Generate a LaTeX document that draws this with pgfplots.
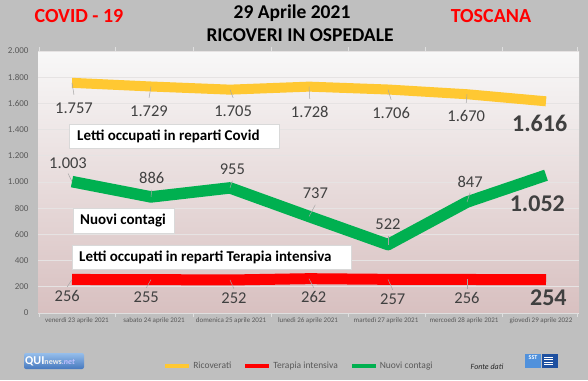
\documentclass[border=0pt]{standalone}
\usepackage{fontspec}
\setmainfont{Carlito}
\usepackage{pgfplots}
\pgfplotsset{compat=1.18}
\definecolor{bggray}{HTML}{BFBFBF}
\definecolor{cyellow}{HTML}{FFC832}
\definecolor{cgreen}{HTML}{00B050}
\definecolor{cred}{HTML}{FF0000}
\definecolor{tickgray}{HTML}{595959}
\definecolor{labgray}{HTML}{404040}
\definecolor{gridc}{HTML}{E6E3E3}
\definecolor{bgtop}{HTML}{F8F8F8}
\definecolor{bgbot}{HTML}{D8C0C0}
\definecolor{logotop}{RGB}{150,190,235}
\definecolor{logobot}{RGB}{70,120,190}
\definecolor{sstA}{RGB}{80,145,220}
\definecolor{sstB}{RGB}{30,80,160}
\newcommand{\fs}[1]{\fontsize{#1}{#1}\selectfont}
\begin{document}
\begin{tikzpicture}
\path[use as bounding box, fill=bggray] (0,0) rectangle (588pt,-380pt);
% titles
\node[text=cred, font=\fs{20}\bfseries] at (79pt,-16pt) {COVID - 19};
\node[text=cred, font=\fs{20}\bfseries] at (491pt,-16pt) {TOSCANA};
\node[font=\fs{19.5}\bfseries] at (292pt,-13pt) {29 Aprile 2021};
\node[font=\fs{19.5}\bfseries] at (300pt,-35pt) {RICOVERI IN OSPEDALE};
\begin{axis}[
  at={(38pt,-313pt)}, anchor=south west,
  scale only axis, width=541pt, height=262pt,
  xmin=-0.4304, xmax=6.4177, ymin=0, ymax=2000,
  clip=false,
  axis background/.style={shade, top color=bgtop, bottom color=bgbot},
  axis line style={draw=none},
  ytick={0,200,...,2000},
  ymajorgrids, major grid style={gridc, line width=0.9pt},
  tick style={draw=none},
  /pgf/number format/.cd, 1000 sep={.}, assume math mode=true, /pgfplots/.cd,
  yticklabel style={font=\fs{9}, text=tickgray, xshift=-6pt},
  xtick={0.063,1.038,2.013,2.987,3.975,4.962,5.937},
  xticklabels={venerdì 23 aprile 2021, sabato 24 aprile 2021, domenica 25 aprile 2021, lunedì 26 aprile 2021, martedì 27 aprile 2021, mercoedì 28 aprile 2021, giovedì 29 aprile 2022},
  xticklabel style={font=\fs{7}, text=tickgray, yshift=-1.5pt},
  extra x ticks={-0.418,0.544,1.532,2.519,3.494,4.468,5.443,6.392},
  extra x tick labels={},
  extra x tick style={major tick length=4pt, tick align=outside, tick style={draw=gray!25, line width=0.6pt}, grid=none},
  legend style={at={(axis description cs:0.4824,-0.2023)}, anchor=center, draw=none, fill=none,
    font=\fs{9.5}, text=tickgray, /tikz/every even column/.append style={column sep=10pt}},
  legend columns=3,
  legend cell align=left,
  legend image code/.code={\draw[#1, line width=4pt] (0pt,0pt) -- (24pt,0pt);},
]
\draw[gray!25, line width=0.7pt] (axis cs:-0.43,0) -- (axis cs:6.392,0);
\addplot[cyellow, line width=10pt, line join=round] coordinates {(0,1757) (1,1729) (2,1705) (3,1728) (4,1706) (5,1670) (6,1616)};
\addlegendentry{Ricoverati}
\addplot[cred, line width=11pt, line join=round] coordinates {(0,256) (1,255) (2,252) (3,262) (4,257) (5,256) (6,254)};
\addlegendentry{Terapia intensiva}
\addplot[cgreen, line width=11.5pt, line join=round] coordinates {(0,1003) (1,886) (2,955) (3,737) (4,522) (5,847) (6,1052)};
\addlegendentry{Nuovi contagi}
% leader lines
\begin{scope}[gray!70, line width=0.5pt]
\draw (axis cs:0,1757) -- (axis cs:0.025,1665);
\draw (axis cs:1,1729) -- (axis cs:0.975,1642);
\draw (axis cs:2,1705) -- (axis cs:2.04,1642);
\draw (axis cs:3,1728) -- (axis cs:3.01,1634);
\draw (axis cs:4,1706) -- (axis cs:4.04,1627);
\draw (axis cs:5,1670) -- (axis cs:4.99,1604);
\draw (axis cs:0,1003) -- (axis cs:-0.05,1065);
\draw (axis cs:1,886) -- (axis cs:1.01,941);
\draw (axis cs:2,955) -- (axis cs:2.03,1009);
\draw (axis cs:3,737) -- (axis cs:3.08,826);
\draw (axis cs:4,522) -- (axis cs:4.0,589);
\draw (axis cs:5,847) -- (axis cs:5.04,920);
\draw (axis cs:0,256) -- (axis cs:-0.06,200);
\draw (axis cs:1,255) -- (axis cs:0.94,192);
\draw (axis cs:2,252) -- (axis cs:2.05,185);
\draw (axis cs:3,262) -- (axis cs:3.06,192);
\draw (axis cs:4,257) -- (axis cs:4.06,177);
\draw (axis cs:5,256) -- (axis cs:5.0,185);
\end{scope}
% data labels
\begin{scope}[text=labgray, font=\fs{16.5}]
\node at (axis cs:0.025,1565) {1.757};
\node at (axis cs:0.975,1542) {1.729};
\node at (axis cs:2.04,1542) {1.705};
\node at (axis cs:3.01,1534) {1.728};
\node at (axis cs:4.04,1527) {1.706};
\node at (axis cs:4.99,1504) {1.670};
\node at (axis cs:-0.05,1145) {1.003};
\node at (axis cs:1.01,1031) {886};
\node at (axis cs:2.03,1099) {955};
\node at (axis cs:3.08,916) {737};
\node at (axis cs:4.0,679) {522};
\node at (axis cs:5.04,1000) {847};
\node at (axis cs:-0.06,130) {256};
\node at (axis cs:0.94,122) {255};
\node at (axis cs:2.05,115) {252};
\node at (axis cs:3.06,122) {262};
\node at (axis cs:4.06,107) {257};
\node at (axis cs:5.0,115) {256};
\end{scope}
\begin{scope}[text=labgray, font=\fs{24}\bfseries]
\node at (axis cs:5.92,1450) {1.616};
\node at (axis cs:5.89,832) {1.052};
\node at (axis cs:6.03,115) {254};
\end{scope}
\end{axis}
% text boxes
\begin{scope}[font=\fs{15}\bfseries]
\draw[fill=white, draw=gray!30, line width=0.5pt] (69pt,-124pt) rectangle (279pt,-148pt);
\node[anchor=west, inner sep=0pt] at (77pt,-136pt) {Letti occupati in reparti Covid};
\draw[fill=white, draw=gray!30, line width=0.5pt] (73pt,-208pt) rectangle (174pt,-233pt);
\node[anchor=west, inner sep=0pt] at (80pt,-220.5pt) {Nuovi contagi};
\draw[fill=white, draw=gray!30, line width=0.5pt] (72pt,-245pt) rectangle (351pt,-269pt);
\node[anchor=west, inner sep=0pt] at (79pt,-257pt) {Letti occupati in reparti Terapia intensiva};
\end{scope}
% QUInews logo
\shade[top color=logotop, bottom color=logobot, rounded corners=2pt] (24pt,-353pt) rectangle (84pt,-369pt);
\node[anchor=west, inner sep=0pt] at (25pt,-361pt) {\fs{12}\bfseries\color{white}QUI\fs{8}\color{white!85!gray}news\itshape\color{white!75!blue}.net};
% Fonte dati
\node[font=\fs{8}\itshape, text=black!85] at (487pt,-367pt) {Fonte dati};
% SST logo
\fill[sstA] (525pt,-354pt) rectangle (541pt,-368pt);
\node[font=\fs{6}\bfseries, text=white, inner sep=0pt] at (533pt,-358pt) {SST};
\fill[sstB] (542pt,-354pt) rectangle (558pt,-368pt);
\foreach \k in {0,1,2,3} {\draw[white, line width=0.4pt] (544pt,{-357pt-2.5pt*\k}) -- (553pt,{-357pt-2.5pt*\k});}
\end{tikzpicture}
\end{document}
